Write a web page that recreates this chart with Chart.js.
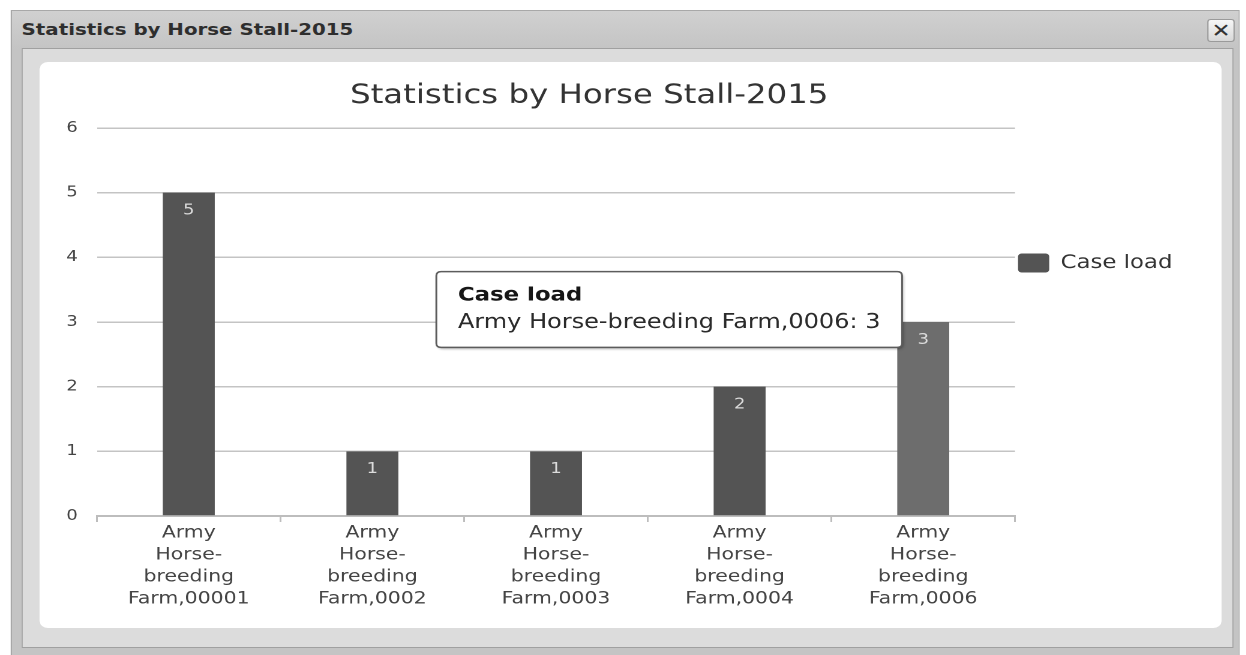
<!DOCTYPE html>
<html>
<head>
<meta charset="utf-8">
<title>Statistics by Horse Stall-2015</title>
<script src="https://cdn.jsdelivr.net/npm/chart.js@4.4.1/dist/chart.umd.min.js"></script>
<style>
  html, body { margin: 0; padding: 0; background: #fff; overflow: hidden; }
  body { width: 1246px; height: 655px; }
  /* the whole window is drawn 1.2x wider than tall, like the screenshot */
  #stage { position: relative; width: 1038.33px; height: 655px; transform: scaleX(1.2); transform-origin: 0 0;
           font-family: "DejaVu Sans", sans-serif; }
  .dialog { position: absolute; left: 9px; top: 10px; width: 1024px; height: 660px;
            background: linear-gradient(#d0d0d0, #c4c4c4 38px); border: 1px solid #a8a8a8; box-sizing: border-box; }
  .dialog-title { position: absolute; left: 18px; top: 11px; height: 37px; line-height: 37px;
                  font-size: 16.5px; font-weight: bold; color: #2e2e2e; }
  .dialog-close { position: absolute; left: 1006px; top: 19px; width: 21px; height: 21px; border: 1px solid #9a9a9a;
                  border-radius: 3px; background: linear-gradient(#f6f6f6, #d8d8d8); color: #333;
                  font-size: 19px; font-weight: bold; line-height: 21px; text-align: center; }
  .dialog-body { position: absolute; left: 18px; top: 48px; width: 1010px; height: 600px;
                 background: #dcdcdc; border: 1px solid #a0a0a0; box-sizing: border-box; }
  .panel { position: absolute; left: 33.3px; top: 62px; width: 985px; height: 566px; background: #fff; border-radius: 7px; }
  #chart { position: absolute; left: -5px; top: 63px; }
</style>
</head>
<body>
<div id="stage">
  <div class="dialog"></div>
  <div class="dialog-title">Statistics by Horse Stall-2015</div>
  <div class="dialog-close">✕</div>
  <div class="dialog-body"></div>
  <div class="panel"></div>
  <canvas id="chart" width="992" height="565"></canvas>
</div>
<script>
const categories = [
  'Army Horse-breeding Farm,00001',
  'Army Horse-breeding Farm,0002',
  'Army Horse-breeding Farm,0003',
  'Army Horse-breeding Farm,0004',
  'Army Horse-breeding Farm,0006'
];
const caseLoad = [5, 1, 1, 2, 3];
const seriesName = 'Case load';
const chartTitle = 'Statistics by Horse Stall-2015';
const yMax = 6;
const yStep = 1;
const highlighted = 4;

const font = '"DejaVu Sans", sans-serif';

// value written inside the top of each bar
const valueLabels = {
  id: 'valueLabels',
  afterDatasetsDraw(chart) {
    const { ctx } = chart;
    const values = chart.data.datasets[0].data;
    ctx.save();
    ctx.fillStyle = '#dcdcdc';
    ctx.font = `15px ${font}`;
    ctx.textAlign = 'center';
    ctx.textBaseline = 'middle';
    chart.getDatasetMeta(0).data.forEach((bar, i) => {
      ctx.fillText(String(values[i]), bar.x, bar.y + 18);
    });
    ctx.restore();
  }
};

const tooltipShadow = {
  id: 'tooltipShadow',
  beforeTooltipDraw(chart, args) {
    const tt = args.tooltip;
    if (!tt.opacity) return;
    const { ctx } = chart;
    ctx.save();
    ctx.shadowColor = 'rgba(0,0,0,0.35)';
    ctx.shadowBlur = 5;
    ctx.shadowOffsetX = 2;
    ctx.shadowOffsetY = 3;
    ctx.fillStyle = '#fff';
    ctx.beginPath();
    ctx.roundRect(tt.x, tt.y, tt.width, tt.height, 4);
    ctx.fill();
    ctx.restore();
  }
};

Chart.Tooltip.positioners.besideBar = (items) => {
  if (!items.length) return false;
  const bar = items[0].element;
  return { x: bar.x - bar.width / 2 + 4, y: bar.y - 12.5 };
};

const chart = new Chart(document.getElementById('chart'), {
  type: 'bar',
  data: {
    labels: categories,
    datasets: [{
      label: seriesName,
      data: caseLoad,
      backgroundColor: '#545454',
      hoverBackgroundColor: '#6d6d6d',
      borderWidth: 0,
      categoryPercentage: 1,
      barPercentage: 0.283
    }]
  },
  options: {
    responsive: false,
    animation: false,
    devicePixelRatio: 2,
    events: [],
    layout: { padding: { top: 0, left: 0, right: 0, bottom: 18 } },
    plugins: {
      title: {
        display: true,
        text: chartTitle,
        color: '#333',
        font: { family: font, size: 27, weight: 'normal' },
        padding: { top: 16.8, bottom: 15.8 }
      },
      legend: {
        position: 'right',
        align: 'start',
        // empty title only pushes the single legend item down
        title: { display: true, text: '', font: { size: 10, lineHeight: 1 }, padding: { top: 178, bottom: 0 } },
        labels: {
          color: '#333',
          font: { family: font, size: 19 },
          boxWidth: 26,
          boxHeight: 19,
          padding: 2.5,
          useBorderRadius: true,
          borderRadius: 3
        }
      },
      tooltip: {
        position: 'besideBar',
        xAlign: 'right',
        yAlign: 'center',
        caretSize: 0,
        caretPadding: 0,
        backgroundColor: '#fff',
        borderColor: '#5c5c5c',
        borderWidth: 1.5,
        cornerRadius: 4,
        padding: { x: 18, y: 12.5 },
        displayColors: false,
        titleColor: '#161616',
        titleFont: { family: font, size: 19, weight: 'bold', lineHeight: 1.2 },
        titleMarginBottom: 4,
        bodyColor: '#2a2a2a',
        bodyFont: { family: font, size: 20, lineHeight: 1.2 },
        callbacks: {
          title: items => items[0].dataset.label,
          label: item => `${item.label}: ${item.raw}`
        }
      }
    },
    scales: {
      x: {
        grid: { display: true, drawOnChartArea: false, drawTicks: true, tickLength: 6, color: '#bdbdbd', lineWidth: 1.5, offset: true },
        border: { display: true, color: '#bdbdbd', width: 2 },
        ticks: {
          color: '#444',
          font: { family: font, size: 17, lineHeight: 1.294 },
          padding: 0,
          maxRotation: 0,
          autoSkip: false,
          callback(value) {
            return this.getLabelForValue(value).replace('-', '- ').split(' ');
          }
        }
      },
      y: {
        min: 0,
        max: yMax,
        afterFit: scale => { scale.width = 85.8; },
        grid: { color: '#c4c4c4', lineWidth: 1.5, drawTicks: false },
        border: { display: false },
        ticks: { stepSize: yStep, color: '#444', font: { family: font, size: 15 }, padding: 16 }
      }
    }
  },
  plugins: [valueLabels, tooltipShadow]
});

const active = [{ datasetIndex: 0, index: highlighted }];
chart.tooltip.setActiveElements(active, { x: 0, y: 0 });
chart.setActiveElements(active);
chart.update();
</script>
</body>
</html>
